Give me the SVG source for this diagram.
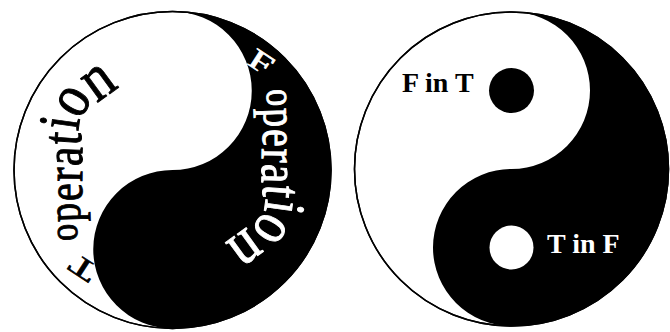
<svg xmlns="http://www.w3.org/2000/svg" width="670" height="332" viewBox="0 0 670 332">
<style>
.bg{fill:#fff}
.ring{fill:#fff;stroke:#000;stroke-width:1.5}
.edge{fill:none;stroke:#000;stroke-width:1.5}
.blk{fill:#000}
.wht{fill:#fff}
.arc text{font-family:"Liberation Serif","Times New Roman",serif;text-anchor:middle;stroke-width:0.8}
.dark text{fill:#000;stroke:#000}
.light text{fill:#fff;stroke:#fff}
.lbl{font-family:"Liberation Serif","Times New Roman",serif;font-weight:bold;font-size:28px}
</style>
<rect class="bg" width="670" height="332"/>
<g id="yinyang-left">
<circle class="ring" cx="172.5" cy="170" r="158.5"/>
<path class="blk" d="M172.5,11.5 A158.5,158.5 0 0 1 172.5,328.5 A79.25,79.25 0 0 1 172.5,170 A79.25,79.25 0 0 0 172.5,11.5 Z"/>
<circle class="edge" cx="172.5" cy="170" r="158.5"/>
<g id="label-T-operation" class="arc dark">
<text font-size="36" transform="translate(88,260) rotate(-147) scale(1.2,0.8)">T</text>
<text font-size="34" transform="translate(77,231.5) rotate(-95) scale(1,1.2)">o</text>
<text font-size="38" transform="translate(80,212) rotate(-92) scale(1,1.25)">p</text>
<text font-size="40" transform="translate(81.5,192) rotate(-90) scale(1,1.25)">e</text>
<text font-size="42" transform="translate(82,174.7) rotate(-89) scale(1,1.25)">r</text>
<text font-size="43" transform="translate(82,156.7) rotate(-88) scale(1,1.25)">a</text>
<text font-size="45" transform="translate(81,139.4) rotate(-86) scale(1,1.25)">t</text>
<text font-size="47" transform="translate(79,125) rotate(-82) scale(1,1.25)">i</text>
<text font-size="52" transform="translate(86.5,109) rotate(-60) scale(1,1.2)">o</text>
<text font-size="56" transform="translate(108,95) rotate(-36) scale(1,1.15)">n</text>
</g>
<g id="label-F-operation" class="arc light" transform="rotate(180 172.5 170) translate(1,10)">
<text font-size="36" transform="translate(88,260) rotate(-147) scale(1.2,0.8)">F</text>
<text font-size="34" transform="translate(77,231.5) rotate(-95) scale(1,1.2)">o</text>
<text font-size="38" transform="translate(80,212) rotate(-92) scale(1,1.25)">p</text>
<text font-size="40" transform="translate(81.5,192) rotate(-90) scale(1,1.25)">e</text>
<text font-size="42" transform="translate(82,174.7) rotate(-89) scale(1,1.25)">r</text>
<text font-size="43" transform="translate(82,156.7) rotate(-88) scale(1,1.25)">a</text>
<text font-size="45" transform="translate(81,139.4) rotate(-86) scale(1,1.25)">t</text>
<text font-size="47" transform="translate(79,125) rotate(-82) scale(1,1.25)">i</text>
<text font-size="52" transform="translate(86.5,109) rotate(-60) scale(1,1.2)">o</text>
<text font-size="56" transform="translate(108,95) rotate(-36) scale(1,1.15)">n</text>
</g>
</g>
<g id="yinyang-right">
<circle class="ring" cx="511.5" cy="169" r="157"/>
<path class="blk" d="M511.5,12 A157,157 0 0 1 511.5,326 A78.5,78.5 0 0 1 511.5,169 A78.5,78.5 0 0 0 511.5,12 Z"/>
<circle class="edge" cx="511.5" cy="169" r="157"/>
<g id="dot-F-in-T">
<circle class="blk" cx="511.5" cy="90.5" r="22.5"/>
<text class="lbl" x="402" y="92" fill="#000">F in T</text>
</g>
<g id="dot-T-in-F">
<circle class="wht" cx="511.5" cy="247.5" r="22"/>
<text class="lbl" x="547" y="253" fill="#fff">T in F</text>
</g>
</g>
</svg>
